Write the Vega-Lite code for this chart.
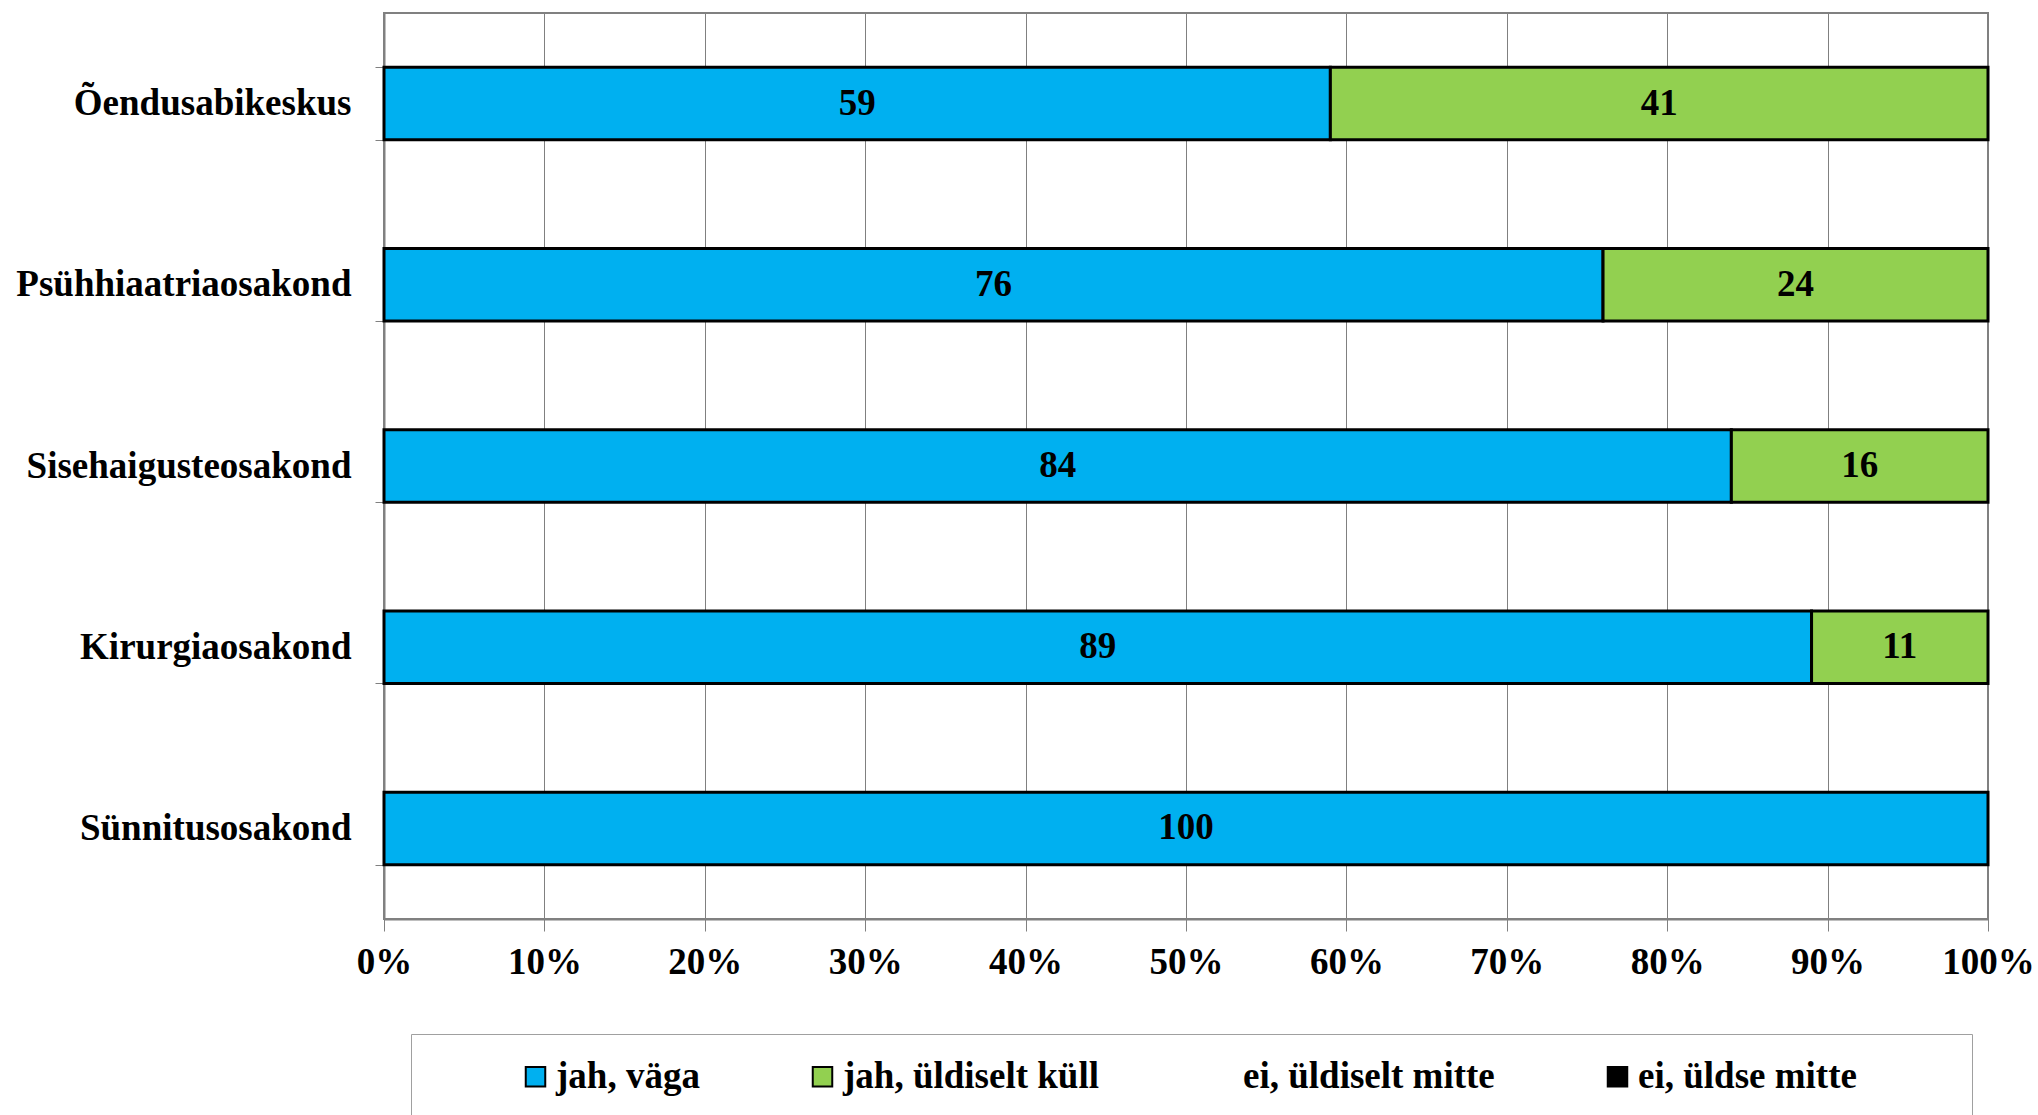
{
  "$schema": "https://vega.github.io/schema/vega-lite/v6.json",
  "width": 1604,
  "height": 906,
  "autosize": {"type": "none"},
  "padding": {"left": 384, "top": 13, "right": 50, "bottom": 196},
  "background": "white",
  "config": {
    "font": "Liberation Serif",
    "view": {"stroke": "#808080", "strokeWidth": 2}
  },
  "data": {
    "values": [
      {"osakond": "Õendusabikeskus", "vastus": "jah, väga", "protsent": 59},
      {"osakond": "Õendusabikeskus", "vastus": "jah, üldiselt küll", "protsent": 41},
      {"osakond": "Psühhiaatriaosakond", "vastus": "jah, väga", "protsent": 76},
      {"osakond": "Psühhiaatriaosakond", "vastus": "jah, üldiselt küll", "protsent": 24},
      {"osakond": "Sisehaigusteosakond", "vastus": "jah, väga", "protsent": 84},
      {"osakond": "Sisehaigusteosakond", "vastus": "jah, üldiselt küll", "protsent": 16},
      {"osakond": "Kirurgiaosakond", "vastus": "jah, väga", "protsent": 89},
      {"osakond": "Kirurgiaosakond", "vastus": "jah, üldiselt küll", "protsent": 11},
      {"osakond": "Sünnitusosakond", "vastus": "jah, väga", "protsent": 100}
    ]
  },
  "encoding": {
    "y": {
      "field": "osakond",
      "type": "nominal",
      "sort": ["Õendusabikeskus", "Psühhiaatriaosakond", "Sisehaigusteosakond", "Kirurgiaosakond", "Sünnitusosakond"],
      "scale": {"paddingInner": 0.6, "paddingOuter": 0.3},
      "axis": {
        "title": null,
        "tickBand": "extent",
        "labelFontSize": 37,
        "labelFontWeight": "bold",
        "labelColor": "black",
        "labelPadding": 24,
        "labelLimit": 600,
        "tickSize": 9,
        "tickColor": "#808080",
        "domainColor": "#808080",
        "domainWidth": 2
      }
    },
    "order": {"field": "vastus", "type": "nominal", "sort": "ascending"}
  },
  "layer": [
    {
      "mark": {"type": "bar", "strokeWidth": 3},
      "encoding": {
        "x": {
          "field": "protsent",
          "type": "quantitative",
          "stack": "zero",
          "scale": {"domain": [0, 100], "nice": false},
          "axis": {
            "title": null,
            "values": [0, 10, 20, 30, 40, 50, 60, 70, 80, 90, 100],
            "labelExpr": "datum.value + '%'",
            "labelFontSize": 37,
            "labelFontWeight": "bold",
            "labelColor": "black",
            "labelPadding": 13,
            "labelFlush": false,
            "tickSize": 12,
            "tickColor": "#808080",
            "domainColor": "#808080",
            "domainWidth": 2,
            "gridColor": "#808080",
            "gridWidth": 1,
            "gridOpacity": 1
          }
        },
        "fill": {
          "field": "vastus",
          "type": "nominal",
          "scale": {
            "domain": ["jah, väga", "jah, üldiselt küll", "ei, üldiselt mitte", "ei, üldse mitte"],
            "range": ["#00B0F0", "#92D050", "white", "black"]
          },
          "legend": {
            "orient": "none",
            "legendX": 27,
            "legendY": 1021,
            "direction": "horizontal",
            "title": "\u00a0",
            "titleOrient": "left",
            "titlePadding": 82,
            "labelExpr": "datum.index == 3 ? datum.label + '\u00a0\u00a0\u00a0\u00a0\u2800\u2800' : datum.label",
            "labelFontSize": 37,
            "labelFontWeight": "bold",
            "labelColor": "black",
            "labelLimit": 0,
            "labelOffset": 2,
            "symbolType": "square",
            "symbolSize": 380,
            "symbolStrokeWidth": 2,
            "columnPadding": 104,
            "padding": 24,
            "strokeColor": "#a0a0a0",
            "fillColor": "white"
          }
        },
        "stroke": {
          "field": "vastus",
          "type": "nominal",
          "scale": {
            "domain": ["jah, väga", "jah, üldiselt küll", "ei, üldiselt mitte", "ei, üldse mitte"],
            "range": ["black", "black", "white", "black"]
          },
          "legend": null
        }
      }
    },
    {
      "mark": {"type": "text", "fontWeight": "bold", "fontSize": 37, "color": "black", "baseline": "middle", "align": "center"},
      "encoding": {
        "x": {"field": "protsent", "type": "quantitative", "stack": "zero", "bandPosition": 0.5},
        "text": {"field": "protsent", "type": "quantitative"},
        "detail": {"field": "vastus", "type": "nominal"}
      }
    }
  ]
}
